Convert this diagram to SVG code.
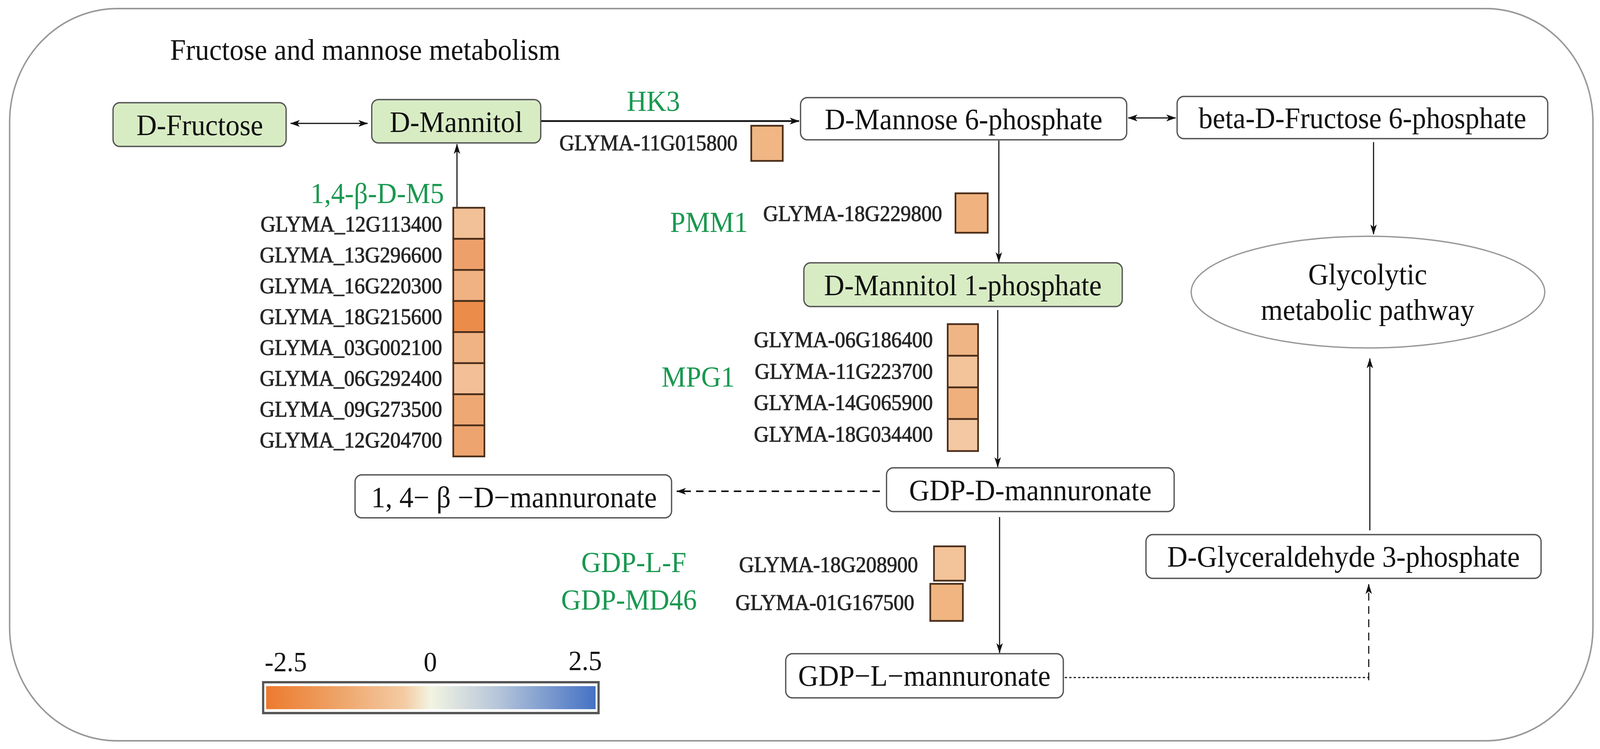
<svg xmlns="http://www.w3.org/2000/svg" width="4317" height="1918" viewBox="0 0 4317 1918">
<defs>
<style>
.node{stroke:#555;stroke-width:3.5}
.green{fill:#d8ecc4}
.white{fill:#fff}
.lbl{font-family:"Liberation Serif","Times New Roman",serif;font-size:76px;fill:#111;text-anchor:middle}
.enz{font-family:"Liberation Serif","Times New Roman",serif;font-size:74px;fill:#1a9850}
.gene{font-family:"Liberation Serif","Times New Roman",serif;font-size:56px;fill:#262626;stroke:#262626;stroke-width:1.2;text-anchor:end}
.cell{stroke:#4a2e1a;stroke-width:4.5}
.con{fill:none;stroke:#111;stroke-width:3}
.dash{stroke-dasharray:20 14}
.dot{stroke-dasharray:6 6;stroke-width:3}
.num{font-family:"Liberation Serif","Times New Roman",serif;font-size:72px;fill:#111}
</style>
<marker id="ah" viewBox="0 0 24 20" refX="23" refY="10" markerWidth="26" markerHeight="22" markerUnits="userSpaceOnUse" orient="auto-start-reverse">
<path d="M0,2 L24,10 L0,18 L6,10 Z" fill="#111"/>
</marker>
<linearGradient id="cbar" x1="0" y1="0" x2="1" y2="0">
<stop offset="0" stop-color="#ec7a2e"/>
<stop offset="0.22" stop-color="#eea468"/>
<stop offset="0.42" stop-color="#f4cba3"/>
<stop offset="0.5" stop-color="#f2f4e2"/>
<stop offset="0.7" stop-color="#b7c6da"/>
<stop offset="1" stop-color="#4472c4"/>
</linearGradient>
</defs>
<rect x="0" y="0" width="4317" height="1918" fill="#fff"/>
<g id="diagram" transform="scale(0.9488,1)">
<rect x="26" y="22" width="4272" height="1875" rx="290" ry="290" fill="none" stroke="#999" stroke-width="4"/>
<text x="459" y="153" font-family="Liberation Serif, Times New Roman, serif" font-size="76" fill="#111">Fructose and mannose metabolism</text>

<g id="connectors">
<line class="con" x1="784" y1="316" x2="992" y2="316" marker-start="url(#ah)" marker-end="url(#ah)"/>
<line class="con" x1="1459" y1="310" x2="2156" y2="310" style="stroke-width:4.5" marker-end="url(#ah)"/>
<line class="con" x1="1233" y1="532" x2="1233" y2="369" marker-end="url(#ah)"/>
<line class="con" x1="2695" y1="360" x2="2695" y2="671" marker-end="url(#ah)"/>
<line class="con" x1="3044" y1="302" x2="3172" y2="302" marker-start="url(#ah)" marker-end="url(#ah)"/>
<line class="con" x1="3706" y1="364" x2="3706" y2="600" marker-end="url(#ah)"/>
<line class="con" x1="2692" y1="794" x2="2692" y2="1196" marker-end="url(#ah)"/>
<line class="con dash" x1="2374" y1="1258" x2="1826" y2="1258" style="stroke-width:4" marker-end="url(#ah)"/>
<line class="con" x1="2697" y1="1324" x2="2697" y2="1672" marker-end="url(#ah)"/>
<line class="con dot" x1="2873" y1="1735" x2="3693" y2="1735"/>
<line class="con dash" x1="3693" y1="1742" x2="3693" y2="1496" marker-end="url(#ah)"/>
<line class="con" x1="3696" y1="1358" x2="3696" y2="918" marker-end="url(#ah)"/>
</g>

<g id="n-dfructose">
<rect class="node green" x="305" y="263" width="467" height="112" rx="18"/>
<text class="lbl" x="539" y="346">D-Fructose</text>
</g>
<g id="n-dmannitol">
<rect class="node green" x="1003" y="255" width="456" height="111" rx="18"/>
<text class="lbl" x="1231" y="338">D-Mannitol</text>
</g>
<g id="n-dmannose6p">
<rect class="node white" x="2160" y="250" width="880" height="108" rx="18"/>
<text class="lbl" x="2600" y="331">D-Mannose 6-phosphate</text>
</g>
<g id="n-betadfructose6p">
<rect class="node white" x="3176" y="247" width="1000" height="108" rx="18"/>
<text class="lbl" x="3676" y="328">beta-D-Fructose 6-phosphate</text>
</g>
<g id="n-dmannitol1p">
<rect class="node green" x="2169" y="673" width="859" height="112" rx="18"/>
<text class="lbl" x="2598" y="756">D-Mannitol 1-phosphate</text>
</g>
<g id="n-glycolytic">
<ellipse cx="3691" cy="748" rx="477" ry="143" fill="#fff" stroke="#999" stroke-width="3.5"/>
<text class="lbl" x="3690" y="728">Glycolytic</text>
<text class="lbl" x="3690" y="819">metabolic pathway</text>
</g>
<g id="n-gdpdmannuronate">
<rect class="node white" x="2392" y="1198" width="776" height="112" rx="18"/>
<text class="lbl" x="2780" y="1281">GDP-D-mannuronate</text>
</g>
<g id="n-14bdmannuronate">
<rect class="node white" x="958" y="1216" width="854" height="110" rx="18"/>
<text class="lbl" x="1387" y="1299">1, 4− β −D−mannuronate</text>
</g>
<g id="n-gdplmannuronate">
<rect class="node white" x="2120" y="1674" width="749" height="113" rx="18"/>
<text class="lbl" x="2494" y="1756">GDP−L−mannuronate</text>
</g>
<g id="n-dglyceraldehyde3p">
<rect class="node white" x="3092" y="1369" width="1066" height="112" rx="18"/>
<text class="lbl" x="3625" y="1451">D-Glyceraldehyde 3-phosphate</text>
</g>

<g id="enzyme-hk3">
<text class="enz" x="1691" y="284">HK3</text>
<text class="gene" x="1990" y="385">GLYMA-11G015800</text>
<rect class="cell" x="2027" y="322" width="85" height="90" fill="#f0b683"/>
</g>

<g id="enzyme-14bdm5">
<text class="enz" x="1198" y="520" text-anchor="end">1,4-β-D-M5</text>
<text class="gene" x="1193" y="593">GLYMA_12G113400</text>
<text class="gene" x="1193" y="672">GLYMA_13G296600</text>
<text class="gene" x="1193" y="751">GLYMA_16G220300</text>
<text class="gene" x="1193" y="830">GLYMA_18G215600</text>
<text class="gene" x="1193" y="909">GLYMA_03G002100</text>
<text class="gene" x="1193" y="988">GLYMA_06G292400</text>
<text class="gene" x="1193" y="1067">GLYMA_09G273500</text>
<text class="gene" x="1193" y="1146">GLYMA_12G204700</text>
<rect class="cell" x="1223" y="532" width="84" height="79.6" fill="#f2c197"/>
<rect class="cell" x="1223" y="611.6" width="84" height="79.6" fill="#eea06a"/>
<rect class="cell" x="1223" y="691.2" width="84" height="79.6" fill="#f0b283"/>
<rect class="cell" x="1223" y="770.8" width="84" height="79.6" fill="#eb8c4a"/>
<rect class="cell" x="1223" y="850.4" width="84" height="79.6" fill="#f0b384"/>
<rect class="cell" x="1223" y="930" width="84" height="79.6" fill="#f2bf96"/>
<rect class="cell" x="1223" y="1009.6" width="84" height="79.6" fill="#eea873"/>
<rect class="cell" x="1223" y="1089.2" width="84" height="79.6" fill="#eea46e"/>
</g>

<g id="enzyme-pmm1">
<text class="enz" x="1808" y="594">PMM1</text>
<text class="gene" x="2542" y="566">GLYMA-18G229800</text>
<rect class="cell" x="2578" y="495" width="87" height="101" fill="#f0b27e"/>
</g>

<g id="enzyme-mpg1">
<text class="enz" x="1785" y="990">MPG1</text>
<text class="gene" x="2517" y="889">GLYMA-06G186400</text>
<text class="gene" x="2517" y="970">GLYMA-11G223700</text>
<text class="gene" x="2517" y="1050">GLYMA-14G065900</text>
<text class="gene" x="2517" y="1131">GLYMA-18G034400</text>
<rect class="cell" x="2557" y="830" width="82" height="81" fill="#f0b585"/>
<rect class="cell" x="2557" y="911" width="82" height="81" fill="#f3c39a"/>
<rect class="cell" x="2557" y="992" width="82" height="81" fill="#efb07d"/>
<rect class="cell" x="2557" y="1073" width="82" height="82" fill="#f3c8a2"/>
</g>

<g id="enzyme-gdplf">
<text class="enz" x="1852" y="1465" text-anchor="end">GDP-L-F</text>
<text class="gene" x="2477" y="1465">GLYMA-18G208900</text>
<rect class="cell" x="2520" y="1399" width="84" height="88" fill="#f3c399"/>
</g>
<g id="enzyme-gdpmd46">
<text class="enz" x="1880" y="1561" text-anchor="end">GDP-MD46</text>
<text class="gene" x="2467" y="1562">GLYMA-01G167500</text>
<rect class="cell" x="2510" y="1495" width="88" height="95" fill="#f0b580"/>
</g>

<g id="colorbar">
<text class="num" x="714" y="1719">-2.5</text>
<text class="num" x="1161" y="1719" text-anchor="middle">0</text>
<text class="num" x="1534" y="1716">2.5</text>
<rect x="710" y="1747" width="905" height="79" fill="#fff" stroke="#555" stroke-width="6"/>
<rect x="718" y="1757" width="889" height="59" fill="url(#cbar)"/>
</g>
</g>
</svg>
